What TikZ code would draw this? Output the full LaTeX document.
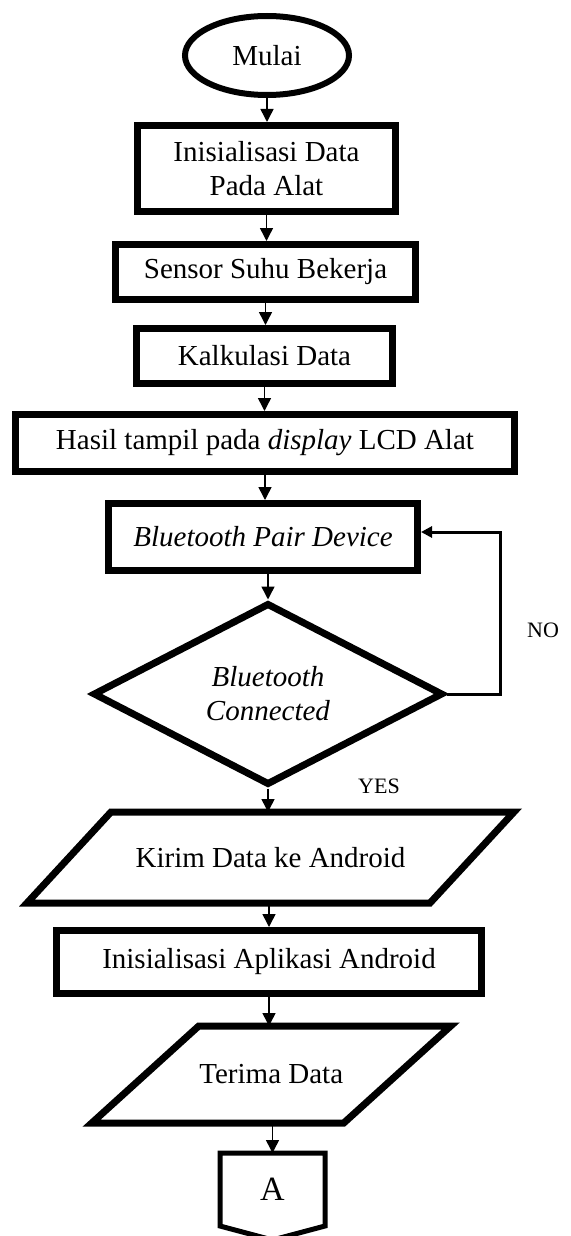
\documentclass[tikz,border=0pt]{standalone}
\usepackage{fontspec}
\setmainfont{Liberation Serif}
\usetikzlibrary{shapes.geometric,arrows.meta}
\begin{document}
\begin{tikzpicture}[x=1pt,y=-1pt,
  every node/.style={font=\fontsize{29}{34}\selectfont, align=center, inner sep=0pt},
  proc/.style={draw, rectangle, line width=7pt},
  term/.style={draw, ellipse, line width=6pt},
  dec/.style={draw, diamond, line width=7pt},
  slot/.style={rectangle, outer sep=3.5pt},
  outline/.style={line width=7pt, line join=miter},
  flow/.style={-{Triangle[length=13pt,width=13pt]}, line width=1.5pt},
  back/.style={-{Triangle[length=11pt,width=11pt]}, line width=3pt},
  lbl/.style={font=\fontsize{22}{26}\selectfont}
]
\useasboundingbox (0,0) rectangle (570,1236);

% process chain
\node[term, minimum width=164pt, minimum height=79pt] (start) at (267,55.5) {Mulai};
\node[proc, minimum width=258pt, minimum height=86pt] (init) at (266.5,168.5) {Inisialisasi Data\\Pada Alat};
\node[proc, minimum width=300pt, minimum height=55pt] (sensor) at (265.5,272) {Sensor Suhu Bekerja};
\node[proc, minimum width=256pt, minimum height=55pt] (calc) at (264.5,356) {Kalkulasi Data};
\node[proc, minimum width=499pt, minimum height=57pt] (show) at (265,443) {Hasil tampil pada \textit{display} LCD Alat};
\node[proc, minimum width=309pt, minimum height=67pt] (pair) at (263,537) {\textit{Bluetooth Pair Device}};
\node[dec, shape aspect=1.92, minimum width=350pt, minimum height=182pt] (conn) at (268,694)
  {\fontsize{29}{36}\selectfont\textit{Bluetooth}\\\textit{Connected}};

% data output: parallelogram around the text slot
\node[slot, minimum width=396pt, minimum height=84pt] (send) at (270.5,857.5) {Kirim Data ke Android};
\draw[outline] ([xshift=-42pt]send.south west) -- ([xshift=-42pt]send.south east)
  -- ([xshift=42pt]send.north east) -- ([xshift=42pt]send.north west) -- cycle;

\node[proc, minimum width=425pt, minimum height=63pt] (app) at (269,962) {Inisialisasi Aplikasi Android};

% data input: parallelogram around the text slot
\node[slot, minimum width=245pt, minimum height=90pt] (recv) at (271.25,1074.5) {Terima Data};
\draw[outline] ([xshift=-53.5pt]recv.south west) -- ([xshift=-53.5pt]recv.south east)
  -- ([xshift=53.5pt]recv.north east) -- ([xshift=53.5pt]recv.north west) -- cycle;

% off-page connector
\node[rectangle, outer sep=2.5pt, minimum width=100pt, minimum height=68pt] (offA) at (272.5,1189.5) {\fontsize{34}{38}\selectfont A};
\draw[line width=5pt, line join=miter] (offA.north west) -- (offA.north east) -- (offA.south east)
  -- ([yshift=-14pt]offA.south) -- (offA.south west) -- cycle;

% connectors
\draw[flow] (start) -- (start.south |- init.north);
\draw[flow] (init) -- (init.south |- sensor.north);
\draw[flow] (sensor) -- (sensor.south |- calc.north);
\draw[flow] (calc) -- (calc.south |- show.north);
\draw[flow] (show) -- (show.south |- pair.north);
\draw[flow] (pair.south -| conn.north) -- (conn);
\draw[flow] (conn) -- (conn.south |- send.north);
\draw[flow] (send.south -| app.north) -- (app);
\draw[flow] (app) -- (app.south |- recv.north);
\draw[flow] (recv.south -| offA.north) -- (offA);

% retry loop
\coordinate (loopTop) at (500,532);
\draw[back] (conn.east) -| (loopTop) -- (pair.east |- loopTop);

% branch labels
\node[lbl] (no) at (543,630) {NO};
\node[lbl] (yes) at (379,786) {YES};
\end{tikzpicture}
\end{document}
